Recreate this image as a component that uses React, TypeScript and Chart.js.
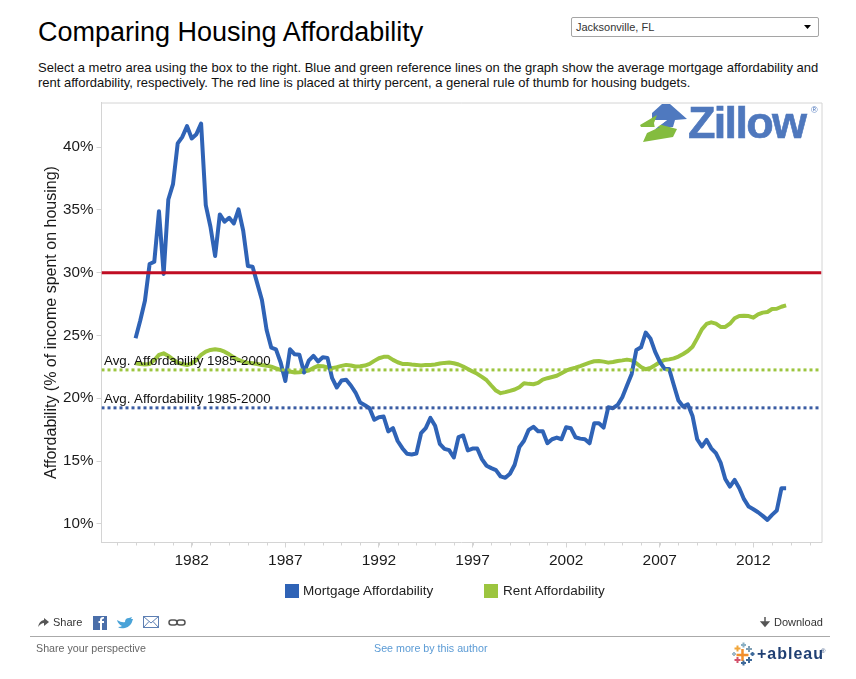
import React, { useEffect, useRef } from 'react';
import { Chart, registerables } from 'chart.js';

Chart.register(...registerables);

const firstYear = 1979;
const mortgage = [
  24.78, 26.2, 27.77, 30.69, 30.87, 34.9, 29.9, 35.83, 37.05, 40.29, 40.82, 41.67, 40.69, 41.03, 41.88, 35.38,
  33.66, 31.33, 34.64, 34.06, 34.37, 33.92, 35.04, 33.34, 30.53, 30.48, 29.15, 27.83, 25.44, 24.03, 23.9, 22.85,
  21.38, 23.9, 23.5, 23.46, 22.05, 23.0, 23.38, 22.93, 23.27, 23.22, 21.6, 20.86, 21.41, 21.47, 21.02, 20.46,
  19.66, 19.45, 19.21, 18.29, 18.5, 18.55, 17.36, 17.62, 16.6, 16.03, 15.58, 15.53, 15.6, 17.22, 17.62, 18.44,
  17.81, 16.38, 15.98, 15.87, 15.29, 16.91, 17.04, 15.85, 16.0, 16.0, 15.16, 14.63, 14.44, 14.28, 13.78, 13.67,
  13.99, 14.71, 16.11, 16.62, 17.49, 17.73, 17.38, 17.38, 16.43, 16.74, 16.87, 16.74, 17.7, 17.62, 16.9, 16.79,
  16.74, 16.42, 18.01, 18.01, 17.67, 19.29, 19.21, 19.47, 20.08, 21.01, 21.94, 23.85, 24.06, 25.23, 24.77, 23.71,
  22.92, 22.36, 22.34, 21.06, 19.82, 19.34, 19.52, 18.6, 16.74, 16.16, 16.69, 16.02, 15.63, 14.88, 13.58, 12.97,
  13.5, 12.84, 11.97, 11.38, 11.17, 10.93, 10.64, 10.32, 10.72, 11.06, 12.84, 12.84,
];
const rent = [
  22.79, 22.73, 22.7, 22.73, 23.05, 23.45, 23.58, 23.37, 23.1, 22.84, 22.73, 22.65, 22.79, 23.05, 23.45, 23.71,
  23.85, 23.9, 23.85, 23.71, 23.5, 23.26, 23.05, 22.92, 22.84, 22.79, 22.73, 22.65, 22.6, 22.52, 22.39, 22.26,
  22.12, 22.13, 22.05, 22.08, 22.13, 22.21, 22.42, 22.58, 22.56, 22.45, 22.4, 22.48, 22.58, 22.66, 22.61, 22.53,
  22.56, 22.61, 22.74, 22.98, 23.19, 23.3, 23.3, 23.06, 22.87, 22.74, 22.74, 22.69, 22.66, 22.61, 22.66, 22.66,
  22.69, 22.77, 22.82, 22.85, 22.79, 22.69, 22.53, 22.34, 22.13, 21.95, 21.71, 21.44, 21.02, 20.62, 20.41, 20.49,
  20.59, 20.7, 20.88, 21.2, 21.15, 21.12, 21.23, 21.49, 21.6, 21.7, 21.8, 21.99, 22.2, 22.34, 22.44, 22.57,
  22.71, 22.84, 22.95, 22.97, 22.92, 22.84, 22.89, 22.97, 23.02, 23.08, 23.02, 22.79, 22.49, 22.31, 22.41, 22.63,
  22.87, 23.05, 23.1, 23.18, 23.32, 23.53, 23.77, 24.11, 24.77, 25.49, 25.92, 26.05, 25.94, 25.68, 25.68, 25.94,
  26.37, 26.55, 26.58, 26.55, 26.42, 26.68, 26.82, 26.87, 27.11, 27.13, 27.29, 27.4,
];
const seriesNames = ['Mortgage Affordability', 'Rent Affordability'];
const seriesColors = ['#2f63b6', '#9cc53f'];
const rentAverage = 22.26;
const mortgageAverage = 19.24;
const budgetRule = 30;
const averageLabel = 'Avg. Affordability 1985-2000';
const labelledYears = [1982, 1987, 1992, 1997, 2002, 2007, 2012];

const FONT = '"Liberation Sans", Arial, sans-serif';
const AXIS_GREY = '#d4d4d4';

const quarters = mortgage.map((_, i) => firstYear + i / 4);
const xyOf = (values: number[]) => values.map((y, i) => ({ x: quarters[i], y }));

const X_MIN = 1977.18;
const X_MAX = 2015.64;
const flatLine = (y: number) => [{ x: X_MIN, y }, { x: X_MAX, y }];

// frame round the plot, short yearly ticks and the two average labels
const extras = {
  id: 'extras',
  beforeDatasetsDraw(chart: any) {
    const { ctx, chartArea: a, scales } = chart;
    ctx.save();
    ctx.strokeStyle = AXIS_GREY;
    ctx.lineWidth = 1;
    ctx.beginPath();
    ctx.moveTo(a.left, a.top + 0.5);
    ctx.lineTo(a.right + 0.5, a.top + 0.5);
    ctx.lineTo(a.right + 0.5, a.bottom);
    scales.x.ticks.forEach((t: any) => {
      const px = Math.round(scales.x.getPixelForValue(t.value)) + 0.5;
      ctx.moveTo(px, a.bottom);
      ctx.lineTo(px, a.bottom + 3);
    });
    ctx.stroke();
    ctx.restore();
  },
  afterDatasetsDraw(chart: any) {
    const { ctx, scales } = chart;
    ctx.save();
    ctx.font = `13.3px ${FONT}`;
    ctx.fillStyle = '#111';
    ctx.textBaseline = 'bottom';
    [rentAverage, mortgageAverage].forEach((v) => {
      ctx.fillText(averageLabel, 104, scales.y.getPixelForValue(v) - 1.5);
    });
    ctx.restore();
  },
};

function AffordabilityChart() {
  const canvasRef = useRef<HTMLCanvasElement>(null);

  useEffect(() => {
    if (!canvasRef.current) return;
    const chart = new Chart(canvasRef.current, {
      type: 'line',
      data: {
        datasets: [
          { label: seriesNames[0], data: xyOf(mortgage), borderColor: seriesColors[0], borderWidth: 4, order: 3, borderJoinStyle: 'round' },
          { label: seriesNames[1], data: xyOf(rent), borderColor: seriesColors[1], borderWidth: 4, order: 4, borderJoinStyle: 'round' },
          { label: 'Budget rule', data: flatLine(budgetRule), borderColor: '#c00d23', borderWidth: 3, order: 0 },
          { label: 'Avg rent', data: flatLine(rentAverage), borderColor: '#9cc53f', borderWidth: 3, borderDash: [3, 3], order: 1 },
          { label: 'Avg mortgage', data: flatLine(mortgageAverage), borderColor: '#3a5ca3', borderWidth: 3, borderDash: [3, 3], order: 2 },
        ],
      },
      options: {
        responsive: false,
        animation: false,
        devicePixelRatio: 1,
        layout: { padding: { top: 7.5, right: 34.5, bottom: 0, left: 0 } },
        elements: { point: { radius: 0 }, line: { tension: 0 } },
        plugins: { legend: { display: false }, tooltip: { enabled: false } },
        font: { family: FONT },
        scales: {
          x: {
            type: 'linear',
            min: X_MIN,
            max: X_MAX,
            afterFit: (s: any) => {
              s.height = 42.5;
              s.paddingLeft = 0;
              s.paddingRight = 0;
            },
            border: { color: AXIS_GREY },
            grid: {
              drawOnChartArea: false,
              tickLength: 5,
              tickColor: (c: any) => (labelledYears.includes(c.tick?.value) ? AXIS_GREY : 'transparent'),
            },
            ticks: {
              stepSize: 1,
              includeBounds: false,
              autoSkip: false,
              maxRotation: 0,
              padding: 4,
              color: '#1a1a1a',
              font: { family: FONT, size: 15.5 },
              callback: (v: any) => (labelledYears.includes(v) ? String(v) : ''),
            },
          },
          y: {
            min: 8.52,
            max: 43.55,
            afterFit: (s: any) => {
              s.width = 101.5;
              s.paddingTop = 0;
              s.paddingBottom = 0;
            },
            border: { color: AXIS_GREY },
            grid: { drawOnChartArea: false, tickLength: 5, tickColor: AXIS_GREY },
            title: {
              display: true,
              text: 'Affordability (% of income spent on housing)',
              color: '#1a1a1a',
              font: { family: FONT, size: 16 },
              padding: { top: 42, bottom: 0 },
            },
            ticks: {
              stepSize: 5,
              includeBounds: false,
              padding: 3,
              color: '#1a1a1a',
              font: { family: FONT, size: 15.2 },
              callback: (v: any) => `${v}%`,
            },
          },
        },
      },
      plugins: [extras],
    } as any);
    return () => chart.destroy();
  }, []);

  return <canvas ref={canvasRef} width={856} height={490} style={{ position: 'absolute', left: 0, top: 95 }} />;
}

const abs = (left: number, top: number, extra: React.CSSProperties = {}): React.CSSProperties => ({
  position: 'absolute',
  left,
  top,
  whiteSpace: 'nowrap',
  ...extra,
});

function ZillowLogo() {
  return (
    <div style={abs(640, 100, { width: 182, height: 46 })}>
      <svg width="50" height="46" style={{ position: 'absolute', left: 0, top: 0 }}>
        <path d="M12 13 L22 4 L30 4 L47 19 L35 20 L33 27 L15 29 L27 20 L12 20 Z" fill="#4f79bf" />
        <path d="M0 25 L17 15 L14 23 L37 29 L33 37 L3 42 L7 33 L20 27 L1 27 Z" fill="#84bc3f" />
        <path d="M14 23 L27 20 L15 29 Z" fill="#fff" />
      </svg>
      <div style={abs(48, -3, { font: `bold 45px ${FONT}`, color: '#4f78bd', letterSpacing: -1.7, WebkitTextStroke: '0.6px #4f78bd' })}>Zillow</div>
      <div style={abs(171, 5, { font: `9px ${FONT}`, color: '#4f78bd' })}>®</div>
    </div>
  );
}

function TableauLogo() {
  const crosses = [
    [742.5, 655, 6, '#f28e2b'], [737.5, 648.5, 3, '#f1a63b'], [743.5, 645, 2.5, '#8ab0c4'], [749, 649, 3, '#7f9fb5'],
    [737.5, 660, 3, '#d3526c'], [749, 660, 3, '#3f6a9a'], [743.5, 663, 2.5, '#3f6a9a'], [734, 654, 2, '#9fb9c8'], [752.5, 654, 2, '#3f6a9a'],
  ] as const;
  return (
    <>
      <svg width="856" height="679" style={{ position: 'absolute', left: 0, top: 0, pointerEvents: 'none' }}>
        {crosses.map(([x, y, r, c], i) => (
          <path key={i} d={`M${x - r} ${y}H${x + r}M${x} ${y - r}V${y + r}`} stroke={c} strokeWidth={r > 4 ? 2.5 : 2} />
        ))}
      </svg>
      <div style={abs(757, 645, { font: `bold 16px ${FONT}`, color: '#1f3f73', letterSpacing: 1 })}>+ableau</div>
      <div style={abs(821, 648, { font: `6px ${FONT}`, color: '#1f3f73' })}>®</div>
    </>
  );
}

function ShareIcons() {
  return (
    <svg width="856" height="679" style={{ position: 'absolute', left: 0, top: 0, pointerEvents: 'none' }}>
      <path d="M38 627 Q39 621 44 620 V618 L49 622 L44 626 V623 Q41 623 38 627 Z" fill="#555" />
      <rect x="93" y="616" width="14" height="14" fill="#4a6ea9" />
      <path d="M102 630 V623 H104 V621 H102 V620 Q102 618.500 104 618.500 V617 Q100 616.500 100 620 V621 H98.500 V623 H100 V630 Z" fill="#fff" />
      <path d="M117 620 Q122 623 125 622 Q125 618 129 618 L132 617 L131 619 L133 619 Q131 627 125 628 Q120 629 118 627 Q121 627 122 626 Q118 624 117 620 Z" fill="#4aa3d8" />
      <rect x="143.500" y="616.500" width="15" height="11" fill="#fff" stroke="#5d7fb3" />
      <path d="M143.500 616.500 L151 623 L158.500 616.500 M143.500 627.500 L149 621.500 M158.500 627.500 L153 621.500" fill="none" stroke="#5d7fb3" />
      <rect x="169" y="620" width="8" height="5" rx="2.500" fill="none" stroke="#555" strokeWidth="1.500" />
      <rect x="177" y="620" width="8" height="5" rx="2.500" fill="none" stroke="#555" strokeWidth="1.500" />
      <path d="M765 617 V624 M761.500 622 L765 626 L768.500 622 Z" stroke="#555" strokeWidth="1.500" fill="#555" />
    </svg>
  );
}

export default function App() {
  return (
    <div style={abs(0, 0, { width: 856, height: 679, background: '#fff', overflow: 'hidden', fontFamily: FONT })}>
      <div style={abs(38, 17, { fontSize: 27, color: '#000' })}>Comparing Housing Affordability</div>
      <div style={abs(571, 17, { width: 246, height: 18, border: '1px solid #a5a5a5', borderRadius: 2, fontSize: 11, lineHeight: '18px', color: '#333', textIndent: 4 })}>
        Jacksonville, FL
        <svg width="8" height="5" style={{ position: 'absolute', right: 6, top: 7 }}><path d="M0 0H7L3.500 4Z" fill="#000" /></svg>
      </div>
      <div style={abs(38, 60, { fontSize: 13, lineHeight: '15px', color: '#111' })}>
        Select a metro area using the box to the right. Blue and green reference lines on the graph show the average mortgage affordability and
        <br />
        rent affordability, respectively. The red line is placed at thirty percent, a general rule of thumb for housing budgets.
      </div>

      <AffordabilityChart />
      <ZillowLogo />

      {seriesNames.map((name, i) => (
        <React.Fragment key={name}>
          <div style={abs(i === 0 ? 285 : 484, 584, { width: 14, height: 14, background: seriesColors[i] })} />
          <div style={abs(i === 0 ? 303 : 503, 583, { fontSize: 13.5, lineHeight: '16px', color: '#222' })}>{name}</div>
        </React.Fragment>
      ))}

      <ShareIcons />
      <div style={abs(53, 616, { fontSize: 11, color: '#333' })}>Share</div>
      <div style={abs(774, 616, { fontSize: 11, color: '#333' })}>Download</div>
      <div style={abs(30, 636, { width: 800, height: 1, background: '#aaa' })} />
      <div style={abs(36, 642, { fontSize: 10.7, color: '#666' })}>Share your perspective</div>
      <div style={abs(374, 642, { fontSize: 10.7, color: '#5b9bd5' })}>See more by this author</div>
      <TableauLogo />
    </div>
  );
}
